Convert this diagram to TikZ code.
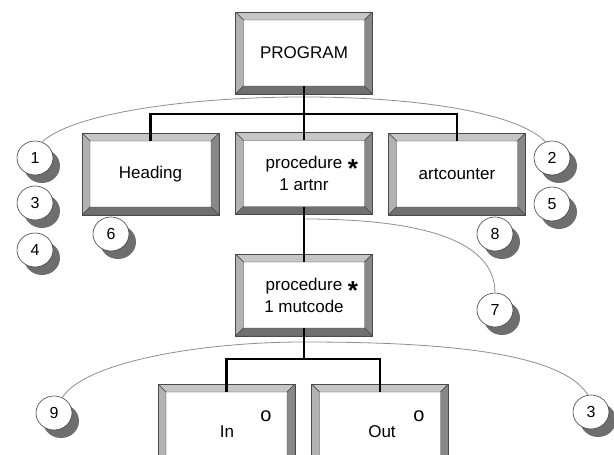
\documentclass[tikz,border=0pt]{standalone}
\usepackage{fontspec}
\setmainfont{Liberation Sans}
\usetikzlibrary{shadows,shapes.geometric}

\definecolor{bevtop}{HTML}{C6C6C6}
\definecolor{bevleft}{HTML}{B2B2B2}
\definecolor{bevright}{HTML}{888888}
\definecolor{bevbottom}{HTML}{707070}
\definecolor{frame}{HTML}{4A4A4A}
\definecolor{arcgray}{HTML}{8E8E8E}
\definecolor{shadowgray}{HTML}{6E6E6E}

\tikzset{
  % raised box with four bevelled edges
  bevelbox/.style={rectangle, draw=frame, line width=0.6pt, fill=white,
    minimum width=137pt, minimum height=82pt, inner sep=0pt, align=center,
    font=\fontsize{17}{22}\selectfont,
    path picture={
      \path (path picture bounding box.north west) coordinate (bnw)
            (path picture bounding box.north east) coordinate (bne)
            (path picture bounding box.south west) coordinate (bsw)
            (path picture bounding box.south east) coordinate (bse);
      \path ([xshift=8pt,yshift=-8pt]bnw) coordinate (inw)
            ([xshift=-8pt,yshift=-8pt]bne) coordinate (ine)
            ([xshift=8pt,yshift=8pt]bsw) coordinate (isw)
            ([xshift=-8pt,yshift=8pt]bse) coordinate (ise);
      \filldraw[fill=bevtop, draw=frame, line width=0.4pt] (bnw) -- (bne) -- (ine) -- (inw) -- cycle;
      \filldraw[fill=bevleft, draw=frame, line width=0.4pt] (bnw) -- (inw) -- (isw) -- (bsw) -- cycle;
      \filldraw[fill=bevright, draw=frame, line width=0.4pt] (bne) -- (bse) -- (ise) -- (ine) -- cycle;
      \filldraw[fill=bevbottom, draw=frame, line width=0.4pt] (bsw) -- (isw) -- (ise) -- (bse) -- cycle;
    }},
  % numbered marker with drop shadow
  num/.style={ellipse, draw=black!75, line width=0.6pt, fill=white,
    minimum width=36pt, minimum height=34pt, inner sep=0pt,
    font=\fontsize{16}{16}\selectfont,
    drop shadow={shadow xshift=7pt, shadow yshift=-8pt, fill=shadowgray, opacity=1}},
  lbl/.style={inner sep=0pt, font=\fontsize{17}{17}\selectfont},
  iterstar/.style={inner sep=0pt, anchor=base, font=\bfseries\fontsize{26}{26}\selectfont},
  selmark/.style={inner sep=0pt, font=\fontsize{20}{20}\selectfont},
  tree/.style={line width=2.6pt, black},
  arcline/.style={arcgray, line width=0.8pt}
}

\begin{document}
\begin{tikzpicture}[x=1pt,y=-1pt]
  \useasboundingbox (0,0) rectangle (614,455);
  \fill[white] (0,0) rectangle (614,455);
  \clip (0,0) rectangle (614,455);

  % structure boxes
  \node[bevelbox] (prog)   at (304,53)    {PROGRAM};
  \node[bevelbox] (head)   at (150.5,174) {Heading};
  \node[bevelbox] (proc1)  at (304,173.5) {procedure\\1 artnr};
  \node[bevelbox] (art)    at (457,174)   {artcounter};
  \node[bevelbox] (proc2)  at (304,295)   {procedure\\1 mutcode};
  \node[bevelbox] (inbox)  at (226.5,425) {};
  \node[bevelbox] (outbox) at (380,425)   {};

  % box labels and markers
  \node[iterstar] (star1) at (353,177) {*};
  \node[iterstar] (star2) at (353,299) {*};
  \node[lbl] (inlbl)  at (227,432) {In};
  \node[lbl] (outlbl) at (382,432) {Out};
  \node[selmark] (inmark)  at (266,416) {o};
  \node[selmark] (outmark) at (419,416) {o};

  % numbered markers
  \node[num] (c1)  at (35,158)  {1};
  \node[num] (c3a) at (35,203)  {3};
  \node[num] (c4)  at (35,250)  {4};
  \node[num] (c6)  at (111,234) {6};
  \node[num] (c2)  at (552,158) {2};
  \node[num] (c5)  at (552,204) {5};
  \node[num] (c8)  at (495,234) {8};
  \node[num] (c7)  at (495,310) {7};
  \node[num] (c9)  at (54,413)  {9};
  \node[num] (c3b) at (591,412) {3};

  % thin arcs linking markers
  \coordinate (apexA) at (304,97);
  \coordinate (tap7)  at (304,219);
  \coordinate (apexC) at (304,342);
  \draw[arcline] (c1.66) .. controls (70,115) and (180,97) .. (apexA)
                         .. controls (428,97) and (520,115) .. (c2.112);
  \draw[arcline] (tap7) .. controls (415,219) and (495,238) .. (c7.north);
  \draw[arcline] (c9.62) .. controls (85,362) and (200,342) .. (apexC)
                         .. controls (430,342) and (560,350) .. (c3b.100);

  % tree connectors
  \coordinate (bus1) at (304,114);
  \coordinate (bus2) at (304,359);
  \draw[tree] ([yshift=8pt]prog.south) -- ([yshift=-8pt]proc1.north);
  \draw[tree] ([yshift=-8pt]head.north) -- (head.north |- bus1)
              -- (art.north |- bus1) -- ([yshift=-8pt]art.north);
  \draw[tree] ([yshift=8pt]proc1.south) -- ([yshift=-8pt]proc2.north);
  \draw[tree] ([yshift=8pt]proc2.south) -- (bus2);
  \draw[tree] ([yshift=-8pt]inbox.north) -- (inbox.north |- bus2)
              -- (outbox.north |- bus2) -- ([yshift=-8pt]outbox.north);
\end{tikzpicture}
\end{document}
